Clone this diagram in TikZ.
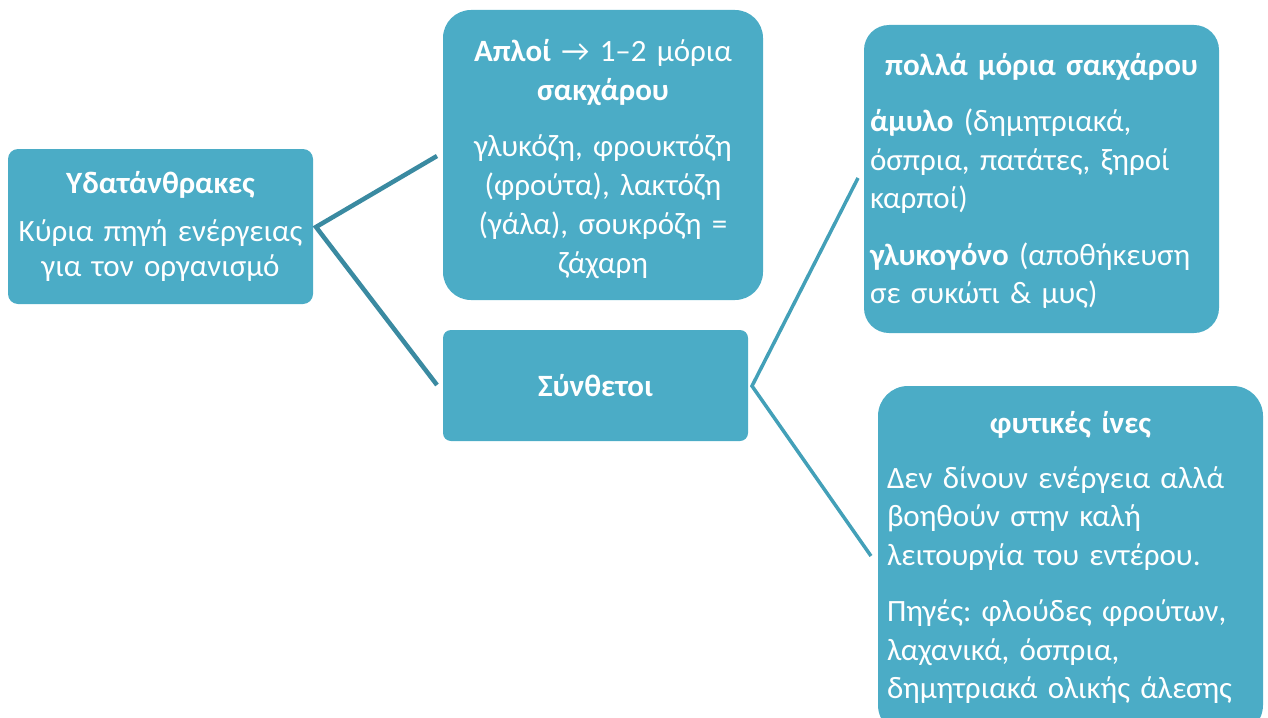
\documentclass[tikz,border=0pt]{standalone}
\usepackage{fontspec}
\setmainfont{Carlito}
\frenchspacing
\definecolor{boxfill}{HTML}{4BACC6}
\definecolor{linkA}{HTML}{3A8AA1}
\definecolor{linkB}{HTML}{43A0B8}
\begin{document}
\begin{tikzpicture}[x=1pt,y=-1pt,
  box/.style={fill=boxfill, text=white, inner sep=0pt, outer sep=0pt,
    font=\fontsize{31}{38.5}\selectfont},
  boxtext/.style={text=white, inner sep=0pt, outer sep=0pt,
    font=\fontsize{31}{38.5}\selectfont},
  linkone/.style={draw=linkA, line width=4.5pt},
  linktwo/.style={draw=linkB, line width=3.5pt}]
\useasboundingbox (0,0) rectangle (1268,717);
% boxes
\node[box, rounded corners=10pt, minimum width=305pt, minimum height=155pt, text width=300pt, align=center,
  font=\fontsize{31}{35.5}\selectfont]
  (carbs) at (160.5,226.5) {\textbf{Υδατάνθρακες}\\[12pt]Κύρια πηγή ενέργειας\\για τον οργανισμό};
\node[box, rounded corners=28pt, minimum width=320pt, minimum height=290pt] (simple) at (603,155) {};
\node[boxtext, text width=310pt, font=\fontsize{31}{39}\selectfont]
  (simpletext) at (603,159) {\frenchspacing\setlength\parskip{17pt}{\centering\textbf{Απλοί} → 1–2 μόρια\\\textbf{σακχάρου}\par}{\centering γλυκόζη, φρουκτόζη\\(φρούτα), λακτόζη\\(γάλα), σουκρόζη =\\ζάχαρη\par}};
\node[box, rounded corners=8pt, minimum width=305pt, minimum height=111pt, font=\fontsize{31}{38}\selectfont\bfseries]
  (complex) at (595.5,385.5) {Σύνθετοι};
\node[box, rounded corners=25pt, minimum width=355pt, minimum height=308pt] (many) at (1041.5,179) {};
\node[boxtext, text width=343pt]
  (manytext) at (1041.5,181) {\frenchspacing\setlength\parskip{18pt}{\centering\textbf{πολλά μόρια σακχάρου}\par}{\raggedright\textbf{άμυλο} (δημητριακά,\\όσπρια, πατάτες, ξηροί\\καρποί)\par}{\raggedright\textbf{γλυκογόνο} (αποθήκευση\\σε συκώτι \& μυς)\par}};
\node[box, rounded corners=30pt, minimum width=385pt, minimum height=349pt] (fibre) at (1070.5,560.5) {};
\node[boxtext, text width=367pt]
  (fibretext) at (1070.5,557.5) {\frenchspacing\setlength\parskip{18pt}{\centering\textbf{φυτικές ίνες}\par}\vspace{-2pt}{\raggedright Δεν δίνουν ενέργεια αλλά\\βοηθούν στην καλή\\λειτουργία του εντέρου.\par}{\raggedright Πηγές: φλούδες φρούτων,\\λαχανικά, όσπρια,\\δημητριακά ολικής άλεσης\par}};
% connectors
\coordinate (hubA) at (316,227);
\coordinate (endA1) at (437,156);
\coordinate (endA2) at (437,385);
\coordinate (hubB) at (752,386);
\coordinate (endB1) at (858,178);
\coordinate (endB2) at (871,556);
\draw[linkone] (endA1) -- (hubA) -- (endA2);
\draw[linktwo] (endB1) -- (hubB) -- (endB2);
\end{tikzpicture}
\end{document}
